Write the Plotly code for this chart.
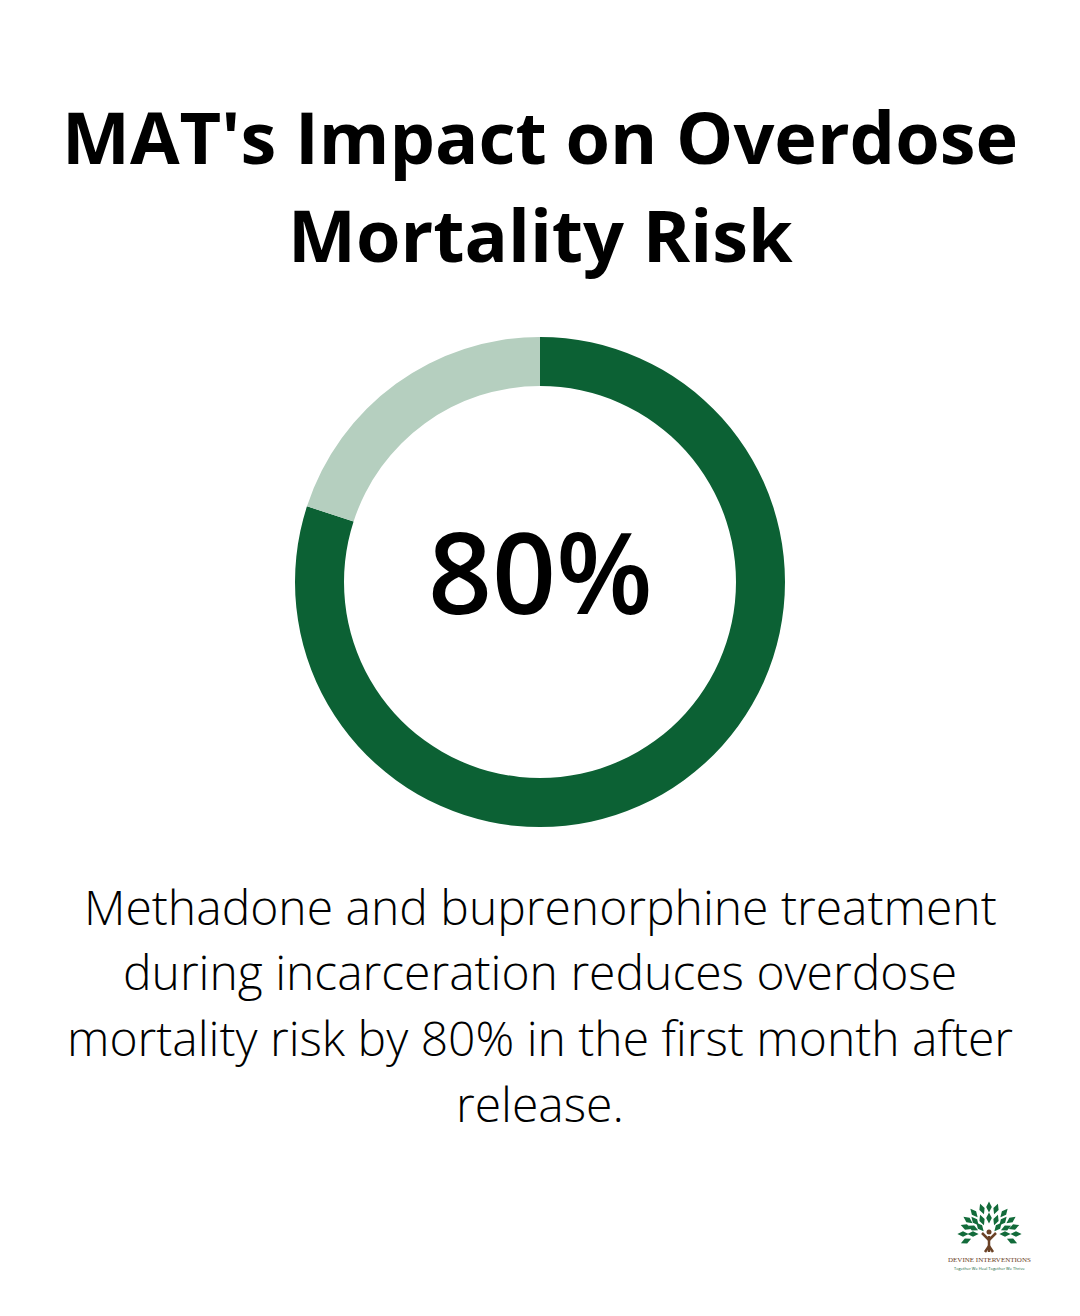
import plotly.graph_objects as go

labels = ["Reduced", "Remaining"]
values = [80, 20]
colors = ["#0C6134", "#B5CFBF"]
title_lines = ["MAT's Impact on Overdose", "Mortality Risk"]
body_lines = ["Methadone and buprenorphine treatment",
              "during incarceration reduces overdose",
              "mortality risk by 80% in the first month after",
              "release."]
W, H = 1080, 1316

# small logo tree: leaf centres and directions
leaf_x = [989, 982, 996, 974, 1004, 968, 1011, 966, 1014, 963, 1016, 966, 1012,
          989, 982, 996, 975, 1003, 973, 1006, 980, 998, 973, 1005]
leaf_y = [1207, 1209, 1209, 1213, 1213, 1220, 1220, 1227, 1227, 1234, 1234, 1241, 1241,
          1218, 1220, 1220, 1221, 1221, 1228, 1228, 1227, 1227, 1234, 1234]
leaf_a = [0, -20, 20, -40, 40, -55, 55, -70, 70, -90, 90, -115, 115,
          0, -20, 20, -40, 40, -65, 65, -40, 40, -90, 90]
trunk_x = [989, 989, None, 989, 982, None, 989, 996, None, 985, 989, 993]
trunk_y = [1236, 1252, None, 1240, 1233, None, 1240, 1233, None, 1252, 1246, 1252]

fig = go.Figure(go.Pie(labels=labels, values=values, hole=0.8, sort=False, direction="clockwise",
                       rotation=0, marker=dict(colors=colors, line=dict(width=0)),
                       textinfo="none", hoverinfo="label+percent", showlegend=False,
                       domain=dict(x=[295/W, 785/W], y=[1-827/H, 1-337/H])))
fig.add_trace(go.Scatter(x=leaf_x, y=leaf_y, mode="markers", hoverinfo="skip", showlegend=False,
                         marker=dict(symbol="diamond-tall", size=8, color="#126B3A", angle=leaf_a,
                                     line=dict(width=0))))
fig.add_trace(go.Scatter(x=trunk_x, y=trunk_y, mode="lines", hoverinfo="skip", showlegend=False,
                         line=dict(color="#6B4226", width=2.5)))
fig.add_trace(go.Scatter(x=[989], y=[1232], mode="markers", hoverinfo="skip", showlegend=False,
                         marker=dict(size=5, color="#6B4226")))
ann = []
for t, y in zip(title_lines, [136, 234]):
    ann.append(dict(text=f"<b>{t}</b>", x=0.5, y=1-y/H, font=dict(size=72, family="Open Sans", color="#000")))
ann.append(dict(text="80%", x=0.5, y=1-571/H, font=dict(size=112, family="Open Sans", color="#000", weight=600)))
for t, y in zip(body_lines, [906, 971, 1037, 1103]):
    ann.append(dict(text=t, x=0.5, y=1-y/H, font=dict(size=48, family="Open Sans", color="#000", weight=300)))
ann.append(dict(text="DEVINE INTERVENTIONS", x=989/W, y=1-1260/H, font=dict(size=7, family="Liberation Serif", color="#6B4226")))
ann.append(dict(text="Together We Heal Together We Thrive", x=989/W, y=1-1268/H, font=dict(size=4, family="Open Sans", color="#0C6134")))
for a in ann:
    a.update(xref="paper", yref="paper", showarrow=False, xanchor="center", yanchor="middle")
fig.update_layout(width=W, height=H, margin=dict(l=0, r=0, t=0, b=0), paper_bgcolor="white",
                  plot_bgcolor="rgba(0,0,0,0)", annotations=ann,
                  xaxis=dict(range=[0, W], visible=False, domain=[0, 1]),
                  yaxis=dict(range=[H, 0], visible=False, domain=[0, 1]))
fig.write_html("out.html", config=dict(displayModeBar=False),
               post_script="document.body.style.margin='0';window.dispatchEvent(new Event('resize'));")
